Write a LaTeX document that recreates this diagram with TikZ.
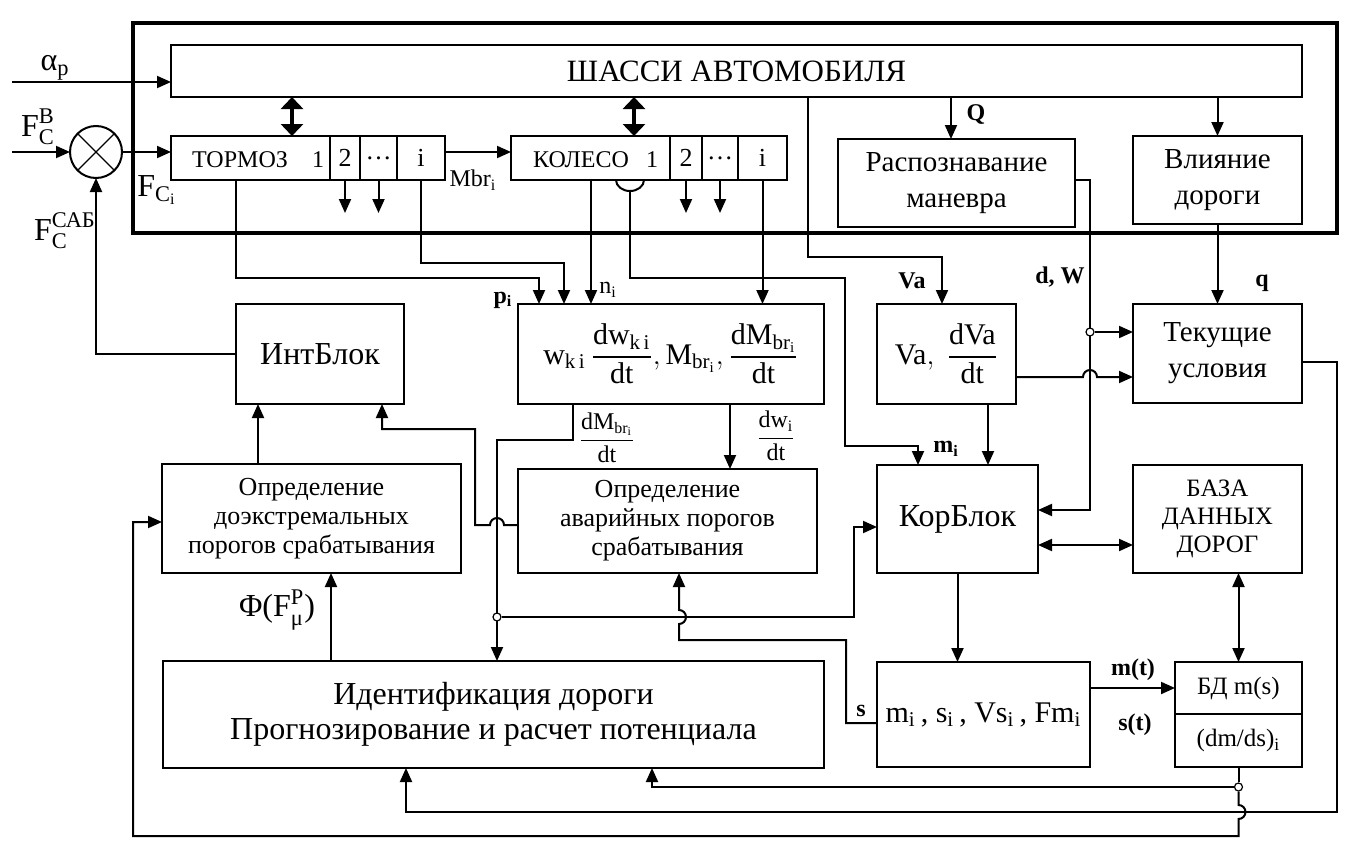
\documentclass[tikz,border=0pt]{standalone}
\usepackage{fontspec}
\setmainfont{Liberation Serif}
\usepackage{amsmath}
\usetikzlibrary{arrows.meta,calc}

\begin{document}
\begin{tikzpicture}[x=0.5pt,y=-0.5pt,line width=1pt,
    blk/.style={rectangle, draw, inner sep=0pt, outer sep=0pt, align=center},
    cell/.style={rectangle, draw, inner sep=0pt, outer sep=0pt, minimum height=22pt, font=\fontsize{13}{15}\selectfont},
    arr/.style={-{Triangle[length=7pt,width=6pt]}},
    twoway/.style={{Triangle[length=7pt,width=6pt]}-{Triangle[length=7pt,width=6pt]}},
    dbl/.style={{Triangle[length=6pt,width=11pt]}-{Triangle[length=6pt,width=11pt]}, line width=2.2pt},
    jn/.style={circle, draw, fill=white, inner sep=0pt, minimum size=4pt, line width=0.6pt},
    ftitle/.style={font=\fontsize{15.5}{18}\selectfont},
    fbox/.style={font=\fontsize{14.5}{18}\selectfont},
    fname/.style={font=\fontsize{16}{17.5}\selectfont},
    fsm/.style={font=\fontsize{13}{14.5}\selectfont},
    fdb/.style={font=\fontsize{12.5}{14}\selectfont},
    fcell/.style={font=\fontsize{12}{14}\selectfont},
    fmath/.style={font=\fontsize{15}{17}\selectfont},
    fsym/.style={font=\fontsize{16}{18}\selectfont},
    ftag/.style={font=\fontsize{12}{14}\selectfont\bfseries},
    ]
    \useasboundingbox (0,0) rectangle (1357,857);
    \fill[white] (0,0) rectangle (1357,857);

    % car frame
    \draw[line width=2.2pt] (133,23) rectangle (1337,233);
    \node[blk, ftitle, minimum width=565.5pt, minimum height=26pt] (chassis) at (736.5,71) {ШАССИ АВТОМОБИЛЯ};

    % brake and wheel cells
    \node[cell, minimum width=79.5pt] (torm1) at (250.5,158) {};
    \node[cell, minimum width=15pt] (torm2) at (345,158) {2};
    \node[cell, minimum width=18.5pt] (tormd) at (378.5,158) {…};
    \node[cell, minimum width=24pt] (tormi) at (421,158) {i};
    \node[fcell] (tormtxt) at (240,160) {ТОРМОЗ};
    \node[fcell] (tormone) at (318,160) {1};
    \node[cell, minimum width=79.5pt] (kol1) at (590.5,158) {};
    \node[cell, minimum width=16pt] (kol2) at (686,158) {2};
    \node[cell, minimum width=18pt] (kold) at (720,158) {…};
    \node[cell, minimum width=24.5pt] (koli) at (762.5,158) {i};
    \node[fcell] (koltxt) at (581,160) {КОЛЕСО};
    \node[fcell] (kolone) at (652,160) {1};

    \node[blk, fbox, minimum width=118.5pt, minimum height=44pt] (rasp) at (956.5,183) {Распознавание\\маневра};
    \node[blk, fbox, minimum width=84.5pt, minimum height=44pt] (vliya) at (1217.5,180) {Влияние\\дороги};

    % summing junction
    \node[circle, draw, minimum size=26pt, inner sep=0pt, outer sep=0pt] (sum) at (96,152) {};
    \draw[line width=0.6pt] (sum.north west) -- (sum.south east);
    \draw[line width=0.6pt] (sum.north east) -- (sum.south west);

    % middle row
    \node[blk, fname, minimum width=84pt, minimum height=50pt] (intb) at (320,354) {ИнтБлок};
    \node[blk, fmath, minimum width=153pt, minimum height=50pt] (deriv) at (671,354)
        {$\text{w}_{\text{k\,i}}\,\dfrac{\text{dw}_{\text{k\,i}}}{\text{dt}}, \text{M}_{\text{br}_{\text{i}}}, \dfrac{\text{dM}_{\text{br}_{\text{i}}}}{\text{dt}}$};
    \node[blk, fmath, minimum width=69.5pt, minimum height=50pt] (vablk) at (946.5,354) {$\text{Va},\ \dfrac{\text{dVa}}{\text{dt}}$};
    \node[blk, fbox, minimum width=84.5pt, minimum height=49.5pt] (tekus) at (1217.5,353.5) {Текущие\\условия};

    \node[blk, fsm, minimum width=149.5pt, minimum height=54.5pt] (opred1) at (311.5,518.5) {Определение\\доэкстремальных\\порогов срабатывания};
    \node[blk, fsm, minimum width=149.5pt, minimum height=52pt] (opred2) at (667.5,521) {Определение\\аварийных порогов\\срабатывания};
    \node[blk, fname, minimum width=80.5pt, minimum height=54pt] (korb) at (957.5,519) {КорБлок};
    \node[blk, fdb, minimum width=84.5pt, minimum height=54pt] (baza) at (1217.5,519) {БАЗА\\ДАННЫХ\\ДОРОГ};

    % bottom row
    \node[blk, fname, minimum width=330.5pt, minimum height=53.5pt] (ident) at (493.5,714.5) {Идентификация дороги\\Прогнозирование и расчет потенциала};
    \node[blk, fmath, minimum width=106.5pt, minimum height=52.5pt] (mblk) at (983.5,714.5) {m\textsubscript{i}\,, s\textsubscript{i}\,, Vs\textsubscript{i}\,, Fm\textsubscript{i}};
    \node[blk, fdb, minimum width=63.5pt, minimum height=26pt] (bdtop) at (1238.5,688) {БД m(s)};
    \node[blk, fdb, minimum width=63.5pt, minimum height=26.5pt] (bdbot) at (1238.5,740.75) {(dm/ds)\textsubscript{i}};

    % inputs
    \coordinate (inA) at (12,82);
    \coordinate (inB) at (12,152);
    \draw[arr] (inA) -- (inA -| chassis.west);
    \draw[arr] (inB) -- (sum.west);
    \draw[arr] (sum.east) -- (sum.east -| torm1.west);
    \draw[arr] (intb.west) -| (sum.south);

    % chassis links
    \draw[dbl] (292,0 |- chassis.south) -- (292,0 |- torm1.north);
    \draw[dbl] (634,0 |- chassis.south) -- (634,0 |- kol1.north);
    \draw[arr] (tormi.east |- sum.east) -- (kol1.west |- sum.east);
    \foreach \c in {torm2,tormd,kol2,kold}
        \draw[arr] (\c.south) -- ++(0,33);

    % to the derivative block
    \draw[arr] (236,0 |- torm1.south) |- (539,278) -- (539,0 |- deriv.north);
    \draw[arr] (tormi.south) |- (564,263) -- (564,0 |- deriv.north);
    \draw[arr] (591,0 |- kol1.south) -- (591,0 |- deriv.north);
    \draw[arr] (koli.south) -- (koli.south |- deriv.north);

    % wheel sensor
    \draw (616,0 |- kol1.south) arc[start angle=180, end angle=360, x radius=7pt, y radius=5.5pt];
    \coordinate (sens) at (630,191);
    \draw[arr] (sens) |- (845,278) |- (918,446) -- (918,0 |- korb.north);

    % chassis outputs
    \draw[arr] (808,0 |- chassis.south) |- (942,257) -- (942,0 |- vablk.north);
    \draw[arr] (951,0 |- chassis.south) -- (951,0 |- rasp.north);
    \draw[arr] (vliya.north |- chassis.south) -- (vliya.north);
    \draw[arr] (vliya.south) -- (tekus.north);

    % d, W
    \draw[arr] (rasp.east |- 0,180) -| (1090,510) -- (korb.east |- 0,510);
    \node[jn] (jdw) at (1090,332) {};
    \draw[arr] (jdw) -- (jdw -| tekus.west);
    \draw[arr] (vablk.east |- 0,377) -- (1083,377) arc[start angle=180, end angle=0, radius=3.5pt] -- (tekus.west |- 0,377);
    \draw[arr] (988,0 |- vablk.south) -- (988,0 |- korb.north);

    % current conditions feedback
    \draw[arr] (tekus.east |- 0,362) -| (1337,812) -| (406,0 |- ident.south);

    % derivative outputs
    \draw[arr] (730,0 |- deriv.south) -- (730,0 |- opred2.north);
    \draw[arr] (573,0 |- deriv.south) |- (497,440) -- (497,0 |- ident.north);
    \node[jn] (jdm) at (497,617) {};
    \draw[arr] (jdm) -| (854,527) -- (korb.west |- 0,527);
    \draw[arr] (opred2.west |- 0,525) -- (504,525) arc[start angle=0, end angle=180, radius=3.5pt] -- (475,525) |- (382,429) -- (382,0 |- intb.south);

    \draw[arr] (258,0 |- opred1.north) -- (258,0 |- intb.south);
    \draw[arr] (331,0 |- ident.north) -- (331,0 |- opred1.south);

    % s
    \draw[arr] (mblk.west |- 0,723) -| (846,640) -| (679,624) arc[start angle=-90, end angle=90, radius=3.5pt] -- (679,0 |- opred2.south);

    \draw[arr] (korb.south) -- (korb.south |- mblk.north);
    \draw[arr] (mblk.east |- bdtop.west) -- (bdtop.west);
    \draw[twoway] (korb.east |- 0,545) -- (baza.west |- 0,545);
    \draw[twoway] (bdtop.north |- baza.south) -- (bdtop.north);

    % database outputs
    \node[jn] (jbd) at (1238.5,787) {};
    \draw (bdbot.south) -- (jbd);
    \draw[arr] (jbd) -| (652,0 |- ident.south);
    \draw[arr] (jbd) -- (1238.5,805) arc[start angle=90, end angle=-90, radius=3.5pt] -- (1238.5,836) -| (133,522) -- (opred1.west |- 0,522);

    % labels
    \node[fsym] (lalpha) at (55,68) {α\textsubscript{p}};
    \node[fsym] (lFB) at (38,127) {$\text{F}_{\text{C}}^{\text{B}}$};
    \node[fsym] (lFCi) at (157,190) {$\text{F}_{\text{C}_{\text{i}}}$};
    \node[fsym] (lFsab) at (65,231) {$\text{F}_{\text{C}}^{\text{САБ}}$};
    \node[fcell] (lMbr) at (473,180) {Mbr\textsubscript{i}};
    \node[ftag] (lp) at (503,300) {p\textsubscript{i}};
    \node[fcell] (ln) at (608,290) {n\textsubscript{i}};
    \node[ftag] (lQ) at (976,114) {Q};
    \node[ftag] (lVa) at (912,281) {Va};
    \node[ftag] (ldW) at (1060,277) {d, W};
    \node[ftag] (lq) at (1262,283) {q};
    \node[ftag] (lm) at (946,449) {m\textsubscript{i}};
    \node[fcell] (ldM) at (607,438) {$\dfrac{\text{dM}_{\text{br}_{\text{i}}}}{\text{dt}}$};
    \node[fcell] (ldw) at (776,436) {$\dfrac{\text{dw}_{\text{i}}}{\text{dt}}$};
    \node[fsym] (lPhi) at (277,610) {Φ($\text{F}^{\text{P}}_{\text{μ}}$)};
    \node[ftag] (ls) at (861,711) {s};
    \node[ftag] (lmt) at (1133,670) {m(t)};
    \node[ftag] (lst) at (1135,725) {s(t)};
\end{tikzpicture}
\end{document}
